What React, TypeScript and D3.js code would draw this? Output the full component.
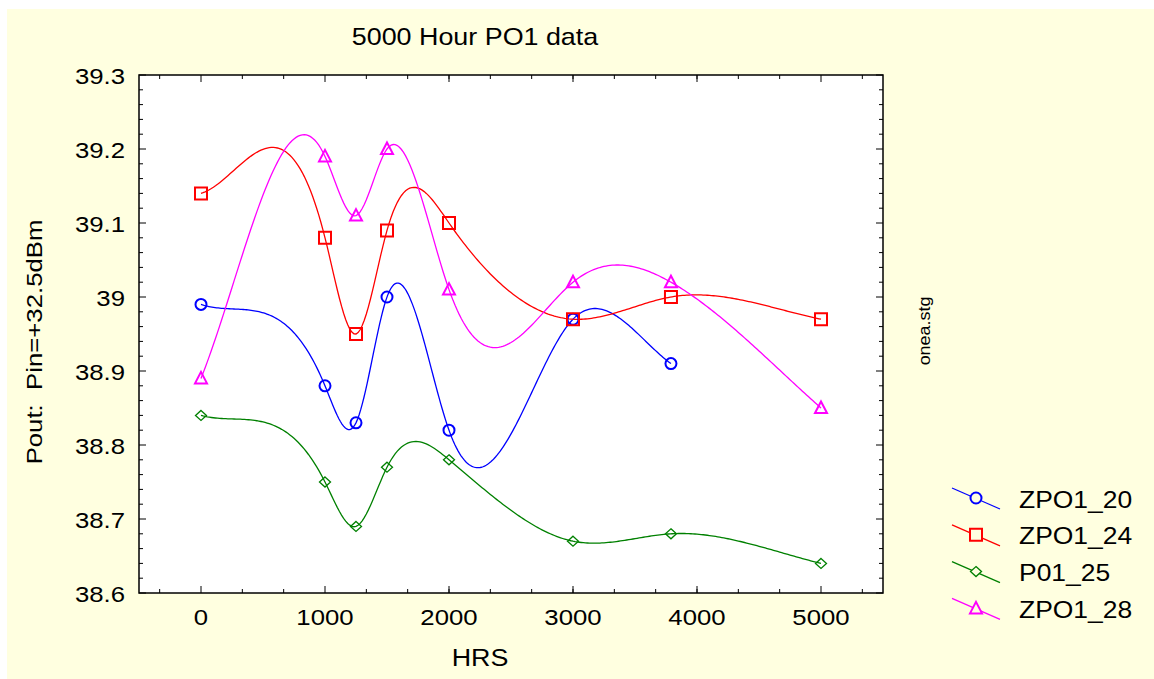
import React, { useEffect, useRef } from 'react';
import * as d3 from 'd3';

// values (Pout in dBm vs hours)
const hours = [0, 1000, 1250, 1500, 2000, 3000, 3790, 5000];
const zpo1_20 = [38.99, 38.88, 38.83, 39.0, 38.82, 38.97, 38.91];
const zpo1_24 = [39.14, 39.08, 38.95, 39.09, 39.1, 38.97, 39.0, 38.97];
const p01_25 = [38.84, 38.75, 38.69, 38.77, 38.78, 38.67, 38.68, 38.64];
const zpo1_28 = [38.89, 39.19, 39.11, 39.2, 39.01, 39.02, 39.02, 38.85];
const seriesNames = ['ZPO1_20', 'ZPO1_24', 'P01_25', 'ZPO1_28'];
const xTicks = [0, 1000, 2000, 3000, 4000, 5000];
const yTicks = [38.6, 38.7, 38.8, 38.9, 39.0, 39.1, 39.2, 39.3];

const FONT = '"Liberation Sans", Arial, sans-serif';
const STRETCH = 1.12;
const END_K = 0.35; // end curvature = -K * neighbour curvature (softer than a natural spline)

// interpolating cubic spline y(x) through the points
function cubicSpline(xs: number[], ys: number[]) {
    const n = xs.length;
    const h = d3.range(n - 1).map(i => xs[i + 1] - xs[i]);
    const m = new Array(n).fill(0);
    if (n > 2) {
        const a: number[] = [], b: number[] = [], c: number[] = [], r: number[] = [];
        for (let i = 1; i < n - 1; i++) {
            a.push(h[i - 1]);
            b.push(2 * (h[i - 1] + h[i]));
            c.push(h[i]);
            r.push(6 * ((ys[i + 1] - ys[i]) / h[i] - (ys[i] - ys[i - 1]) / h[i - 1]));
        }
        const k = b.length;
        b[0] -= END_K * h[0];
        b[k - 1] -= END_K * h[n - 2];
        for (let i = 1; i < k; i++) {
            const w = a[i] / b[i - 1];
            b[i] -= w * c[i - 1];
            r[i] -= w * r[i - 1];
        }
        const sol = new Array(k).fill(0);
        sol[k - 1] = r[k - 1] / b[k - 1];
        for (let i = k - 2; i >= 0; i--) sol[i] = (r[i] - c[i] * sol[i + 1]) / b[i];
        for (let i = 0; i < k; i++) m[i + 1] = sol[i];
        m[0] = -END_K * m[1];
        m[n - 1] = -END_K * m[n - 2];
    }
    return (x: number) => {
        let i = 0;
        while (i < n - 2 && x > xs[i + 1]) i++;
        const hi = h[i];
        const A = xs[i + 1] - x, B = x - xs[i];
        return m[i] * A * A * A / (6 * hi) + m[i + 1] * B * B * B / (6 * hi)
            + (ys[i] / hi - m[i] * hi / 6) * A + (ys[i + 1] / hi - m[i + 1] * hi / 6) * B;
    };
}

const markerPath = (kind: string) => {
    if (kind === 'circle') return d3.symbol(d3.symbolCircle, Math.PI * 5.5 * 5.5)()!;
    if (kind === 'square') return 'M-6,-6H6V6H-6Z';
    if (kind === 'diamond') return 'M0,-5L5.5,0L0,5L-5.5,0Z';
    return 'M0,-6.5L6,5L-6,5Z';
};

const App = () => {
    const svgRef = useRef<SVGSVGElement>(null);

    useEffect(() => {
        const W = 1154, H = 679;
        const svg = d3.select(svgRef.current).attr('width', W).attr('height', H);
        svg.selectAll('*').remove();

        const x = d3.scaleLinear().domain([-500, 5500]).range([139, 883]);
        const y = d3.scaleLinear().domain([38.6, 39.3]).range([593, 75]);

        const series = [
            { name: seriesNames[0], values: zpo1_20, color: '#0000ff', marker: 'circle', sw: 2 },
            { name: seriesNames[1], values: zpo1_24, color: '#ff0000', marker: 'square', sw: 2 },
            { name: seriesNames[2], values: p01_25, color: '#008000', marker: 'diamond', sw: 1.3 },
            { name: seriesNames[3], values: zpo1_28, color: '#ff00ff', marker: 'triangle', sw: 2 },
        ];

        svg.append('rect').attr('x', 7).attr('y', 9).attr('width', W - 7).attr('height', H - 9)
            .attr('fill', '#ffffe0');

        // plot area
        svg.append('rect').attr('x', x(-500)).attr('y', y(39.3))
            .attr('width', x(5500) - x(-500)).attr('height', y(38.6) - y(39.3))
            .attr('fill', '#ffffff');

        const plot = svg.append('g');
        series.forEach(s => {
            const xs = hours.slice(0, s.values.length);
            const f = cubicSpline(xs, s.values);
            const samples = d3.range(0, 301).map(i => xs[0] + (xs[xs.length - 1] - xs[0]) * i / 300);
            const line = d3.line<number>().x(d => x(d)).y(d => y(f(d)));
            plot.append('path').datum(samples).attr('d', line)
                .attr('fill', 'none').attr('stroke', s.color).attr('stroke-width', 1.3);
        });
        series.forEach(s => {
            plot.selectAll(null).data(s.values).enter().append('path')
                .attr('d', markerPath(s.marker))
                .attr('transform', (d, i) => `translate(${x(hours[i])},${y(d)})`)
                .attr('fill', 'none').attr('stroke', s.color).attr('stroke-width', s.sw);
        });

        // frame + inward ticks on all four sides
        const frame = svg.append('g').attr('stroke', '#000');
        const xMinor = d3.range(-1000 / 3, 5500, 1000 / 3).filter(v => Math.abs(v % 1000) > 1);
        const yMinor = d3.range(38.62, 39.29, 0.02).filter(v => Math.abs(v * 10 - Math.round(v * 10)) > 0.01);
        const tick = (v: number, len: number) => {
            frame.append('line').attr('x1', x(v)).attr('x2', x(v)).attr('y1', y(38.6)).attr('y2', y(38.6) - len);
            frame.append('line').attr('x1', x(v)).attr('x2', x(v)).attr('y1', y(39.3)).attr('y2', y(39.3) + len);
        };
        const ytick = (v: number, len: number) => {
            frame.append('line').attr('y1', y(v)).attr('y2', y(v)).attr('x1', x(-500)).attr('x2', x(-500) + len);
            frame.append('line').attr('y1', y(v)).attr('y2', y(v)).attr('x1', x(5500)).attr('x2', x(5500) - len);
        };
        xTicks.forEach(v => tick(v, 7));
        xMinor.forEach(v => tick(v, 4));
        yTicks.forEach(v => ytick(v, 7));
        yMinor.forEach(v => ytick(v, 4));
        frame.append('rect').attr('x', x(-500)).attr('y', y(39.3))
            .attr('width', x(5500) - x(-500)).attr('height', y(38.6) - y(39.3))
            .attr('fill', 'none').attr('stroke-width', 1.5);

        const text = (str: string, tx: number, ty: number, size: number, anchor: string, rot = 0) =>
            svg.append('text').text(str)
                .attr('transform', `translate(${tx},${ty}) rotate(${rot}) scale(${STRETCH},1)`)
                .attr('font-family', FONT).attr('font-size', size)
                .attr('text-anchor', anchor).attr('fill', '#000')
                .style('white-space', 'pre');

        text('5000 Hour PO1 data', 475, 45, 24, 'middle');
        yTicks.forEach(v => text(String(+v.toFixed(1)), 125, y(v) + 8.5, 23, 'end'));
        xTicks.forEach(v => text(String(v), x(v), 625, 23, 'middle'));
        text('HRS', 480, 666, 24, 'middle');
        text('Pout:  Pin=+32.5dBm', 42, 342, 23, 'middle', -90);
        text('onea.stg', 930, 331, 16, 'middle', -90);

        // legend
        const legend = svg.append('g').attr('transform', 'translate(976,498)');
        series.forEach((s, i) => {
            const g = legend.append('g').attr('transform', `translate(0,${i * 36.8})`);
            g.append('line').attr('x1', -24).attr('y1', -10).attr('x2', 24).attr('y2', 11)
                .attr('stroke', s.color).attr('stroke-width', 1.3);
            g.append('path').attr('d', markerPath(s.marker))
                .attr('fill', '#ffffe0').attr('stroke', s.color).attr('stroke-width', s.sw);
            g.append('text').text(s.name)
                .attr('transform', `translate(43,9.5) scale(${STRETCH + 0.03},1)`)
                .attr('font-family', FONT).attr('font-size', 23).attr('fill', '#000');
        });
    }, []);

    return <svg ref={svgRef} style={{ position: 'absolute', left: 0, top: 0 }}></svg>;
};

export default App;
